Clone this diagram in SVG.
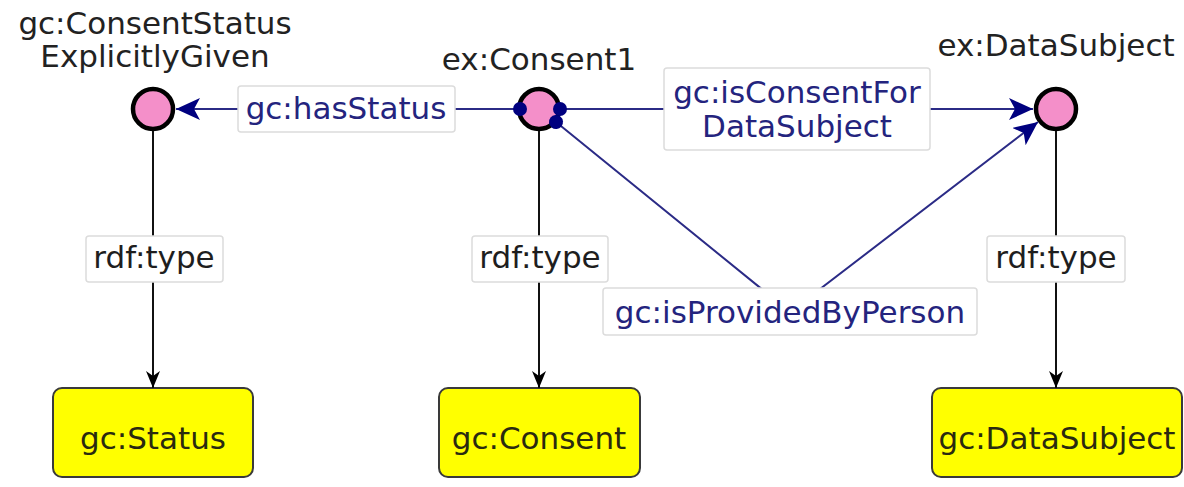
<svg xmlns="http://www.w3.org/2000/svg" width="1184" height="487" viewBox="0 0 1184 487">
<style>
text{font-family:"DejaVu Sans","Liberation Sans",sans-serif;font-size:31px;text-anchor:middle}
.nl{fill:#222}
.ind{fill:#f48fc9;stroke:#000;stroke-width:4.5}
.cls{fill:#ffff00;stroke:#3a3a3a;stroke-width:2}
.ct{fill:#2a2a10}
.op{stroke:#2b2b86;stroke-width:2;fill:none}
.ty{stroke:#111;stroke-width:2;fill:none}
.lb{fill:#fff;stroke:#dcdcdc;stroke-width:1.5}
.ol{fill:#24247e}
.tl{fill:#1e1e1e}
</style>
<defs>
<marker id="na" markerUnits="userSpaceOnUse" markerWidth="26" markerHeight="24" refX="24" refY="11" orient="auto"><path d="M0,0 L24,11 L0,22 L6,11 Z" fill="#00007f"/></marker>
<marker id="ba" markerUnits="userSpaceOnUse" markerWidth="19" markerHeight="16" refX="17" refY="7" orient="auto"><path d="M0,0 L17,7 L0,14 L5,7 Z" fill="#000"/></marker>
<marker id="nd" markerUnits="userSpaceOnUse" markerWidth="16" markerHeight="16" refX="8" refY="8" orient="auto"><circle cx="8" cy="8" r="7" fill="#00007f"/></marker>
</defs>
<rect width="1184" height="487" fill="#fff"/>
<g id="n-status-given">
<text class="nl" x="155" y="34">gc:ConsentStatus</text>
<text class="nl" x="155" y="67">ExplicitlyGiven</text>
<circle class="ind" cx="153" cy="109" r="20"/>
</g>
<g id="n-consent1">
<text class="nl" x="539" y="70">ex:Consent1</text>
<circle class="ind" cx="539" cy="109" r="20"/>
</g>
<g id="n-datasubject">
<text class="nl" x="1056" y="56">ex:DataSubject</text>
<circle class="ind" cx="1056" cy="109" r="20"/>
</g>
<g id="n-gc-status">
<rect class="cls" x="53" y="388" width="200" height="89" rx="9"/>
<text class="ct" x="153" y="449">gc:Status</text>
</g>
<g id="n-gc-consent">
<rect class="cls" x="439" y="388" width="201" height="89" rx="9"/>
<text class="ct" x="539" y="449">gc:Consent</text>
</g>
<g id="n-gc-datasubject">
<rect class="cls" x="932" y="388" width="250" height="89" rx="9"/>
<text class="ct" x="1057" y="449">gc:DataSubject</text>
</g>
<g id="connectors">
<line class="op" x1="520" y1="109" x2="176" y2="109" marker-start="url(#nd)" marker-end="url(#na)"/>
<line class="op" x1="560" y1="109" x2="1033" y2="109" marker-start="url(#nd)" marker-end="url(#na)"/>
<polyline class="op" points="556,122 790,312 1038,122" marker-start="url(#nd)" marker-end="url(#na)"/>
<line class="ty" x1="153" y1="131" x2="153" y2="388" marker-end="url(#ba)"/>
<line class="ty" x1="539" y1="131" x2="539" y2="388" marker-end="url(#ba)"/>
<line class="ty" x1="1056" y1="131" x2="1056" y2="388" marker-end="url(#ba)"/>
<rect class="lb" x="238" y="86" width="217" height="46" rx="3"/>
<text class="ol" x="346" y="119">gc:hasStatus</text>
<rect class="lb" x="664" y="68" width="266" height="82" rx="3"/>
<text class="ol" x="797" y="103">gc:isConsentFor</text>
<text class="ol" x="797" y="137">DataSubject</text>
<rect class="lb" x="603" y="288" width="374" height="47" rx="3"/>
<text class="ol" x="790" y="323">gc:isProvidedByPerson</text>
<rect class="lb" x="86" y="236" width="137" height="46" rx="3"/>
<text class="tl" x="154" y="268">rdf:type</text>
<rect class="lb" x="472" y="236" width="136" height="46" rx="3"/>
<text class="tl" x="540" y="268">rdf:type</text>
<rect class="lb" x="987" y="236" width="138" height="46" rx="3"/>
<text class="tl" x="1056" y="268">rdf:type</text>
</g>
</svg>
